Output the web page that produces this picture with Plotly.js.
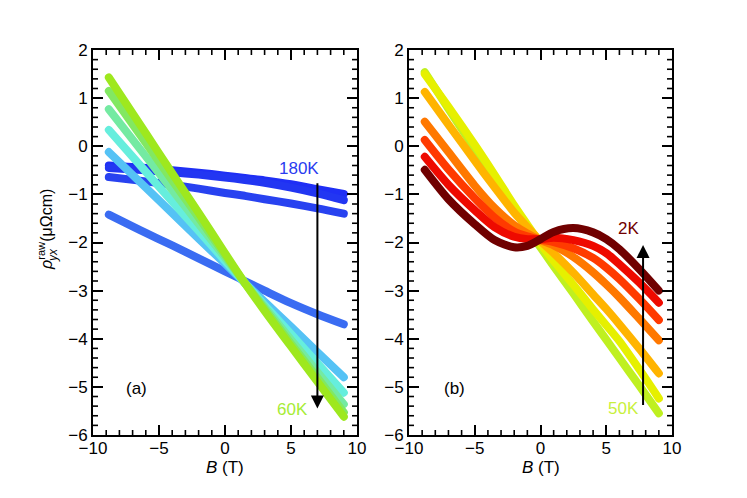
<!DOCTYPE html>
<html>
<head>
<meta charset="utf-8">
<script src="https://cdn.plot.ly/plotly-3.0.1.min.js"></script>
<style>
html,body{margin:0;padding:0;background:#fff;}
#chart{width:747px;height:498px;}
.js-line{stroke-linecap:round;stroke-linejoin:round;}
</style>
</head>
<body>
<div id="chart"></div>
<script>
// ---------- Panel (a): B grid and rho_yx series (µΩcm), 180K -> 60K ----------
const Ba = [-8.8, -6, -4, -2, 0, 1.5, 3, 5, 7, 9];
const a1 = [-0.40, -0.45, -0.50, -0.55, -0.61, -0.66, -0.71, -0.79, -0.89, -0.99];
const a2 = [-0.45, -0.50, -0.54, -0.59, -0.65, -0.70, -0.76, -0.86, -0.98, -1.12];
const a3 = [-0.64, -0.73, -0.80, -0.88, -0.97, -1.03, -1.10, -1.19, -1.29, -1.40];
const a4 = [-1.42, -1.80, -2.06, -2.33, -2.60, -2.80, -3.00, -3.26, -3.49, -3.70];
const a5 = [-0.12, -0.86, -1.39, -1.92, -2.44, -2.84, -3.23, -3.75, -4.28, -4.80];
const a6 = [0.34, -0.53, -1.15, -1.76, -2.38, -2.84, -3.30, -3.90, -4.51, -5.12];
const a7 = [0.77, -0.21, -0.91, -1.61, -2.31, -2.84, -3.34, -4.02, -4.69, -5.36];
const a8 = [1.15, 0.07, -0.71, -1.48, -2.26, -2.84, -3.38, -4.10, -4.81, -5.53];
const a9 = [1.43, 0.27, -0.56, -1.38, -2.22, -2.84, -3.42, -4.16, -4.89, -5.62];
const seriesA = [a1, a2, a3, a4, a5, a6, a7, a8, a9];
const colorsA = ['#1f2ff5', '#2236f2', '#2842f0', '#3a6cf2', '#55c2f5', '#66eedd', '#74eaa2', '#82e862', '#9ee81e'];

// ---------- Panel (b): B grid and rho_yx series, 50K -> 2K ----------
const Bb = [-8.8, -7, -5, -3.5, -2, -1, 0, 1, 2.5, 4, 5, 6, 7.5, 9];
const b1 = [1.54, 0.78, -0.06, -0.70, -1.33, -1.72, -2.10, -2.49, -3.06, -3.64, -4.02, -4.40, -4.97, -5.55];
const b2 = [1.50, 0.82, 0.03, -0.59, -1.23, -1.63, -2.03, -2.38, -2.88, -3.39, -3.72, -4.05, -4.63, -5.24];
const b3 = [1.13, 0.45, -0.30, -0.85, -1.38, -1.68, -1.97, -2.22, -2.63, -3.08, -3.38, -3.70, -4.20, -4.72];
const b4 = [0.51, -0.12, -0.82, -1.28, -1.64, -1.81, -1.95, -2.06, -2.30, -2.62, -2.87, -3.14, -3.58, -4.03];
const b5 = [0.13, -0.48, -1.08, -1.48, -1.77, -1.87, -1.94, -1.99, -2.12, -2.32, -2.52, -2.76, -3.17, -3.61];
const b6 = [-0.22, -0.80, -1.33, -1.68, -1.88, -1.93, -1.93, -1.90, -1.95, -2.07, -2.22, -2.45, -2.83, -3.25];
const b7 = [-0.49, -1.10, -1.62, -1.95, -2.10, -2.07, -1.93, -1.78, -1.70, -1.79, -1.93, -2.14, -2.55, -3.00];
const seriesB = [b1, b2, b3, b4, b5, b6, b7];
const colorsB = ['#bff020', '#e6f000', '#ffb400', '#ff7800', '#ff3a00', '#ee0a00', '#700000'];

// ---------- Tick values ----------
const xMinorTicks = [-9, -8, -7, -6, -4, -3, -2, -1, 1, 2, 3, 4, 6, 7, 8, 9];
const yMinorTicks = [];
for (let k = -29; k <= 9; k++) { if (k % 5 !== 0) yMinorTicks.push(k / 5); }

// ---------- Labels ----------
const xTitle = '<i>B</i> (T)';
const yTitle = '<i>ρ</i><sup>raw</sup>(μΩcm)';
const ySub = '<i>yx</i>';
const labelA = ['180K', '60K', '(a)'];
const labelB = ['2K', '50K', '(b)'];

const W = 747, H = 498;
const FONT = 'Liberation Sans, Arial, Helvetica, sans-serif';

const traces = [];
seriesA.forEach((s, i) => traces.push({
  x: Ba, y: s, xaxis: 'x', yaxis: 'y', type: 'scatter', mode: 'lines',
  line: {color: colorsA[i], width: 8, shape: 'spline', smoothing: 0.8},
  hoverinfo: 'skip', showlegend: false
}));
seriesB.forEach((s, i) => traces.push({
  x: Bb, y: s, xaxis: 'x2', yaxis: 'y2', type: 'scatter', mode: 'lines',
  line: {color: colorsB[i], width: 8, shape: 'spline', smoothing: 0.8},
  hoverinfo: 'skip', showlegend: false
}));

const YDOM = [1 - 435 / H, 1 - 50 / H];
function xax(dom, anchor) {
  return {
    domain: dom, anchor: anchor, range: [-10, 10], dtick: 5, tick0: 0,
    ticks: 'inside', ticklen: 10, tickwidth: 2, tickcolor: '#000',
    mirror: 'allticks', showline: true, linewidth: 2, linecolor: '#000',
    showgrid: false, zeroline: false, tickfont: {size: 17, color: '#000', family: FONT},
    ticklabelstandoff: -3, fixedrange: true
  };
}
function yax(anchor) {
  return {
    domain: YDOM, anchor: anchor, range: [-6, 2], dtick: 1, tick0: 0,
    ticks: 'inside', ticklen: 10, tickwidth: 2, tickcolor: '#000',
    mirror: 'allticks', showline: true, linewidth: 2, linecolor: '#000',
    showgrid: false, zeroline: false, tickfont: {size: 17, color: '#000', family: FONT},
    fixedrange: true
  };
}

// minor ticks drawn as short shapes on all four sides
const shapes = [];
const TK = {color: '#000', width: 1.6};
function addMinor(x0px, x1px) {
  const y0px = 435, y1px = 50, L = 5;
  const toPX = b => x0px + (b + 10) / 20 * (x1px - x0px);
  const toPY = v => y0px - (v + 6) / 8 * (y0px - y1px);
  xMinorTicks.forEach(b => {
    const px = toPX(b) / W;
    shapes.push({type: 'line', layer: 'above', xref: 'paper', yref: 'paper', x0: px, x1: px, y0: 1 - y0px / H, y1: 1 - (y0px - L) / H, line: TK});
    shapes.push({type: 'line', layer: 'above', xref: 'paper', yref: 'paper', x0: px, x1: px, y0: 1 - y1px / H, y1: 1 - (y1px + L) / H, line: TK});
  });
  yMinorTicks.forEach(v => {
    const py = 1 - toPY(v) / H;
    shapes.push({type: 'line', layer: 'above', xref: 'paper', yref: 'paper', x0: x0px / W, x1: (x0px + L) / W, y0: py, y1: py, line: TK});
    shapes.push({type: 'line', layer: 'above', xref: 'paper', yref: 'paper', x0: x1px / W, x1: (x1px - L) / W, y0: py, y1: py, line: TK});
  });
}
addMinor(93, 357);
addMinor(409, 672);

const C = {xanchor: 'center', yanchor: 'middle', showarrow: false};
const annotations = [
  {xref: 'x', yref: 'y', axref: 'x', ayref: 'y', x: 7, y: -5.45, ax: 7, ay: -0.74,
   showarrow: true, arrowhead: 2, arrowsize: 1.3, arrowwidth: 2, arrowcolor: '#000', text: ''},
  {xref: 'x2', yref: 'y2', axref: 'x2', ayref: 'y2', x: 7.8, y: -2.05, ax: 7.8, ay: -5.41,
   showarrow: true, arrowhead: 2, arrowsize: 1.3, arrowwidth: 2, arrowcolor: '#000', text: ''},
  Object.assign({xref: 'x', yref: 'y', x: 5.57, y: -0.46, text: labelA[0], font: {size: 17, color: '#2a3cf0'}}, C),
  Object.assign({xref: 'x', yref: 'y', x: 5.14, y: -5.48, text: labelA[1], font: {size: 17, color: '#a6ec34'}}, C),
  Object.assign({xref: 'x', yref: 'y', x: -6.7, y: -5.03, text: labelA[2], font: {size: 17, color: '#000'}}, C),
  Object.assign({xref: 'x2', yref: 'y2', x: 6.69, y: -1.71, text: labelB[0], font: {size: 17, color: '#700000'}}, C),
  Object.assign({xref: 'x2', yref: 'y2', x: 6.29, y: -5.45, text: labelB[1], font: {size: 17, color: '#c8f03c'}}, C),
  Object.assign({xref: 'x2', yref: 'y2', x: -6.56, y: -5.03, text: labelB[2], font: {size: 17, color: '#000'}}, C),
  Object.assign({xref: 'paper', yref: 'paper', x: 225 / W, y: 1 - 467 / H, text: xTitle, font: {size: 17, color: '#000'}}, C),
  Object.assign({xref: 'paper', yref: 'paper', x: 541 / W, y: 1 - 467 / H, text: xTitle, font: {size: 17, color: '#000'}}, C),
  Object.assign({xref: 'paper', yref: 'paper', x: 45 / W, y: 1 - 230 / H, text: yTitle, textangle: -90, font: {size: 16, color: '#000'}}, C),
  Object.assign({xref: 'paper', yref: 'paper', x: 53 / W, y: 1 - 255 / H, text: ySub, textangle: -90, font: {size: 12, color: '#000'}}, C)
];

const layout = {
  width: W, height: H,
  margin: {l: 0, r: 0, t: 0, b: 0, pad: 0},
  paper_bgcolor: '#fff', plot_bgcolor: '#fff',
  font: {family: FONT, color: '#000', size: 17},
  showlegend: false,
  xaxis: xax([93 / W, 357 / W], 'y'),
  yaxis: yax('x'),
  xaxis2: xax([409 / W, 672 / W], 'y2'),
  yaxis2: yax('x2'),
  shapes: shapes,
  annotations: annotations
};

Plotly.newPlot('chart', traces, layout, {staticPlot: true, displayModeBar: false});
</script>
</body>
</html>
